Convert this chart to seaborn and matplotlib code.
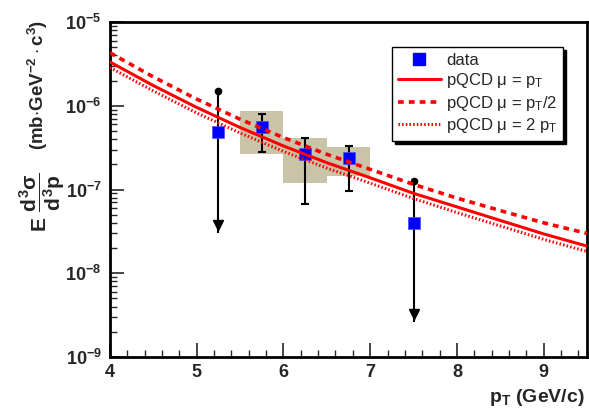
import numpy as np
import pandas as pd
import matplotlib
matplotlib.use("Agg")
import matplotlib.pyplot as plt
import seaborn as sns
from matplotlib.lines import Line2D
from matplotlib.ticker import LogLocator, LogFormatterSciNotation, MultipleLocator, NullFormatter

# ---------------- data ----------------
pt_data = [5.25, 5.75, 6.25, 6.75, 7.5]
y_data = [4.86e-7, 5.6e-7, 2.65e-7, 2.35e-7, 4.02e-8]
is_limit = [True, False, False, False, True]
err_hi = [1.51e-6, 7.97e-7, 4.16e-7, 3.33e-7, 1.25e-7]   # top of bar / upper limit
err_lo = [3.0e-8, 2.8e-7, 6.7e-8, 9.7e-8, 2.6e-9]        # bottom / arrow tip

sys_x = [5.75, 6.25, 6.75]
sys_lo = [2.68e-7, 1.2e-7, 1.45e-7]
sys_hi = [8.65e-7, 4.12e-7, 3.21e-7]
sys_width = 0.5

pt_grid = [4.0, 4.5, 5.0, 5.5, 6.0, 6.5, 7.0, 7.5, 8.0, 8.5, 9.0, 9.5]
pqcd_mu1 = [3.33e-6, 1.74e-6, 9.55e-7, 5.5e-7, 3.31e-7, 2.09e-7, 1.38e-7, 9.0e-8, 6.2e-8, 4.27e-8, 2.95e-8, 2.11e-8]
pqcd_mu_half = [4.29e-6, 2.21e-6, 1.20e-6, 6.9e-7, 4.17e-7, 2.63e-7, 1.74e-7, 1.15e-7, 7.9e-8, 5.6e-8, 4.0e-8, 2.99e-8]
pqcd_mu2 = [2.86e-6, 1.50e-6, 8.2e-7, 4.73e-7, 2.85e-7, 1.80e-7, 1.19e-7, 7.8e-8, 5.3e-8, 3.67e-8, 2.54e-8, 1.82e-8]

legend_labels = ["data", "pQCD μ = p$_\\mathregular{T}$",
                 "pQCD μ = p$_\\mathregular{T}$/2", "pQCD μ = 2 p$_\\mathregular{T}$"]

# ---------------- style ----------------
sns.set_theme(style="white")
plt.rcParams["font.family"] = ["Liberation Sans", "DejaVu Sans"]
plt.rcParams["font.weight"] = "bold"
plt.rcParams["mathtext.fontset"] = "custom"
plt.rcParams["mathtext.rm"] = "Liberation Sans:bold"
plt.rcParams["mathtext.it"] = "Liberation Sans:bold"
plt.rcParams["mathtext.bf"] = "Liberation Sans:bold"
plt.rcParams["mathtext.sf"] = "Liberation Sans:bold"

fig = plt.figure(figsize=(5.89, 4.12), dpi=100)
ax = fig.add_axes([110/589, 1-357/412, 477/589, 335/412])
ax.set_yscale("log")

# systematic boxes
box_color = (201/255, 196/255, 168/255)
ax.bar(sys_x, np.array(sys_hi) - np.array(sys_lo), bottom=sys_lo, width=sys_width,
       color=box_color, edgecolor="none", zorder=1)

df = pd.DataFrame({"pt": pt_data, "y": y_data, "hi": err_hi, "lo": err_lo, "lim": is_limit})
meas = df[~df["lim"]]
lim = df[df["lim"]]

# error bars for measured points
ax.errorbar(meas["pt"], meas["y"], yerr=[meas["y"] - meas["lo"], meas["hi"] - meas["y"]],
            fmt="none", ecolor="black", elinewidth=1.5, capsize=3, capthick=1.5, zorder=2)
# upper limits
ax.vlines(lim["pt"], lim["lo"], lim["hi"], color="black", lw=1.5, zorder=2)
ax.plot(lim["pt"], lim["hi"], "o", color="black", ms=4.5, zorder=2, ls="none")
ax.plot(lim["pt"], lim["lo"] * 1.25, "v", color="black", ms=7, zorder=2, ls="none")

# data points
sns.scatterplot(data=df, x="pt", y="y", marker="s", s=70, color=(0, 0, 1),
                edgecolor=(0.3, 0.3, 1), linewidth=0.5, ax=ax, zorder=3, legend=False)

# pQCD curves
curves = pd.DataFrame({"pt": pt_grid, "mu1": pqcd_mu1, "mu_half": pqcd_mu_half, "mu2": pqcd_mu2})
sns.lineplot(data=curves, x="pt", y="mu1", color="red", lw=2.2, ax=ax, zorder=4)
sns.lineplot(data=curves, x="pt", y="mu_half", color="red", lw=2.6, ax=ax, zorder=4,
             dashes=False).lines[-1].set_linestyle((0, (1.6, 1.4)))
sns.lineplot(data=curves, x="pt", y="mu2", color="red", lw=2.2, ax=ax, zorder=4).lines[-1].set_linestyle((0, (0.5, 0.7)))

ax.set_xlim(4, 9.5)
ax.set_ylim(1e-9, 1e-5)
ax.set_xlabel("")
ax.set_ylabel("")
ax.xaxis.label.set_visible(False)
ax.yaxis.label.set_visible(False)

ax.xaxis.set_major_locator(MultipleLocator(1))
ax.xaxis.set_minor_locator(MultipleLocator(0.2))
ax.yaxis.set_major_locator(LogLocator(base=10, numticks=10))
ax.yaxis.set_minor_locator(LogLocator(base=10, subs=np.arange(2, 10), numticks=20))
ax.yaxis.set_major_formatter(LogFormatterSciNotation())
ax.yaxis.set_minor_formatter(NullFormatter())

ax.tick_params(axis="both", which="major", direction="in", length=10, width=1.2,
               labelsize=13, bottom=True, left=True, top=False, right=False)
ax.tick_params(axis="both", which="minor", direction="in", length=5, width=1.0,
               bottom=True, left=True, top=False, right=False)
ax.tick_params(axis="x", which="major", pad=5)
ax.tick_params(axis="y", which="major", pad=6)
for lbl in ax.get_xticklabels() + ax.get_yticklabels():
    lbl.set_fontweight("bold")

for sp in ax.spines.values():
    sp.set_color("black")
    sp.set_linewidth(2)

# legend
handles = [
    Line2D([], [], marker="s", color=(0, 0, 1), ls="none", ms=8),
    Line2D([], [], color="red", lw=2.2),
    Line2D([], [], color="red", lw=2.6, ls=(0, (1.6, 1.4))),
    Line2D([], [], color="red", lw=2.2, ls=(0, (0.5, 0.7))),
]
leg = ax.legend(handles, legend_labels, loc="upper left",
                bbox_to_anchor=(0.591, 0.925), frameon=True, fancybox=False,
                edgecolor="black", framealpha=1,
                shadow={"color": "black", "alpha": 1},
                prop={"weight": "normal", "size": 12},
                handlelength=2.6, handletextpad=0.3, borderpad=0.35, labelspacing=0.2,
                borderaxespad=0)
leg.get_frame().set_linewidth(1)
leg.set_zorder(10)

# axis titles
fig.text(585/589, 1-397/412, r"p$_\mathregular{T}$ (GeV/c)", ha="right", va="center",
         fontsize=14, fontweight="bold")
fig.text(38/589, 1-20/412, r"(mb$\cdot$GeV$^{-2}\cdot$c$^{3}$)",
         rotation=90, ha="center", va="top", fontsize=13.5, fontweight="bold")
fig.text(42/589, 1-202/412, r"$E\ \dfrac{d^3\sigma}{d^3p}$",
         rotation=90, ha="center", va="center", fontsize=15, fontweight="bold")

fig.savefig("out.png", dpi=100)
